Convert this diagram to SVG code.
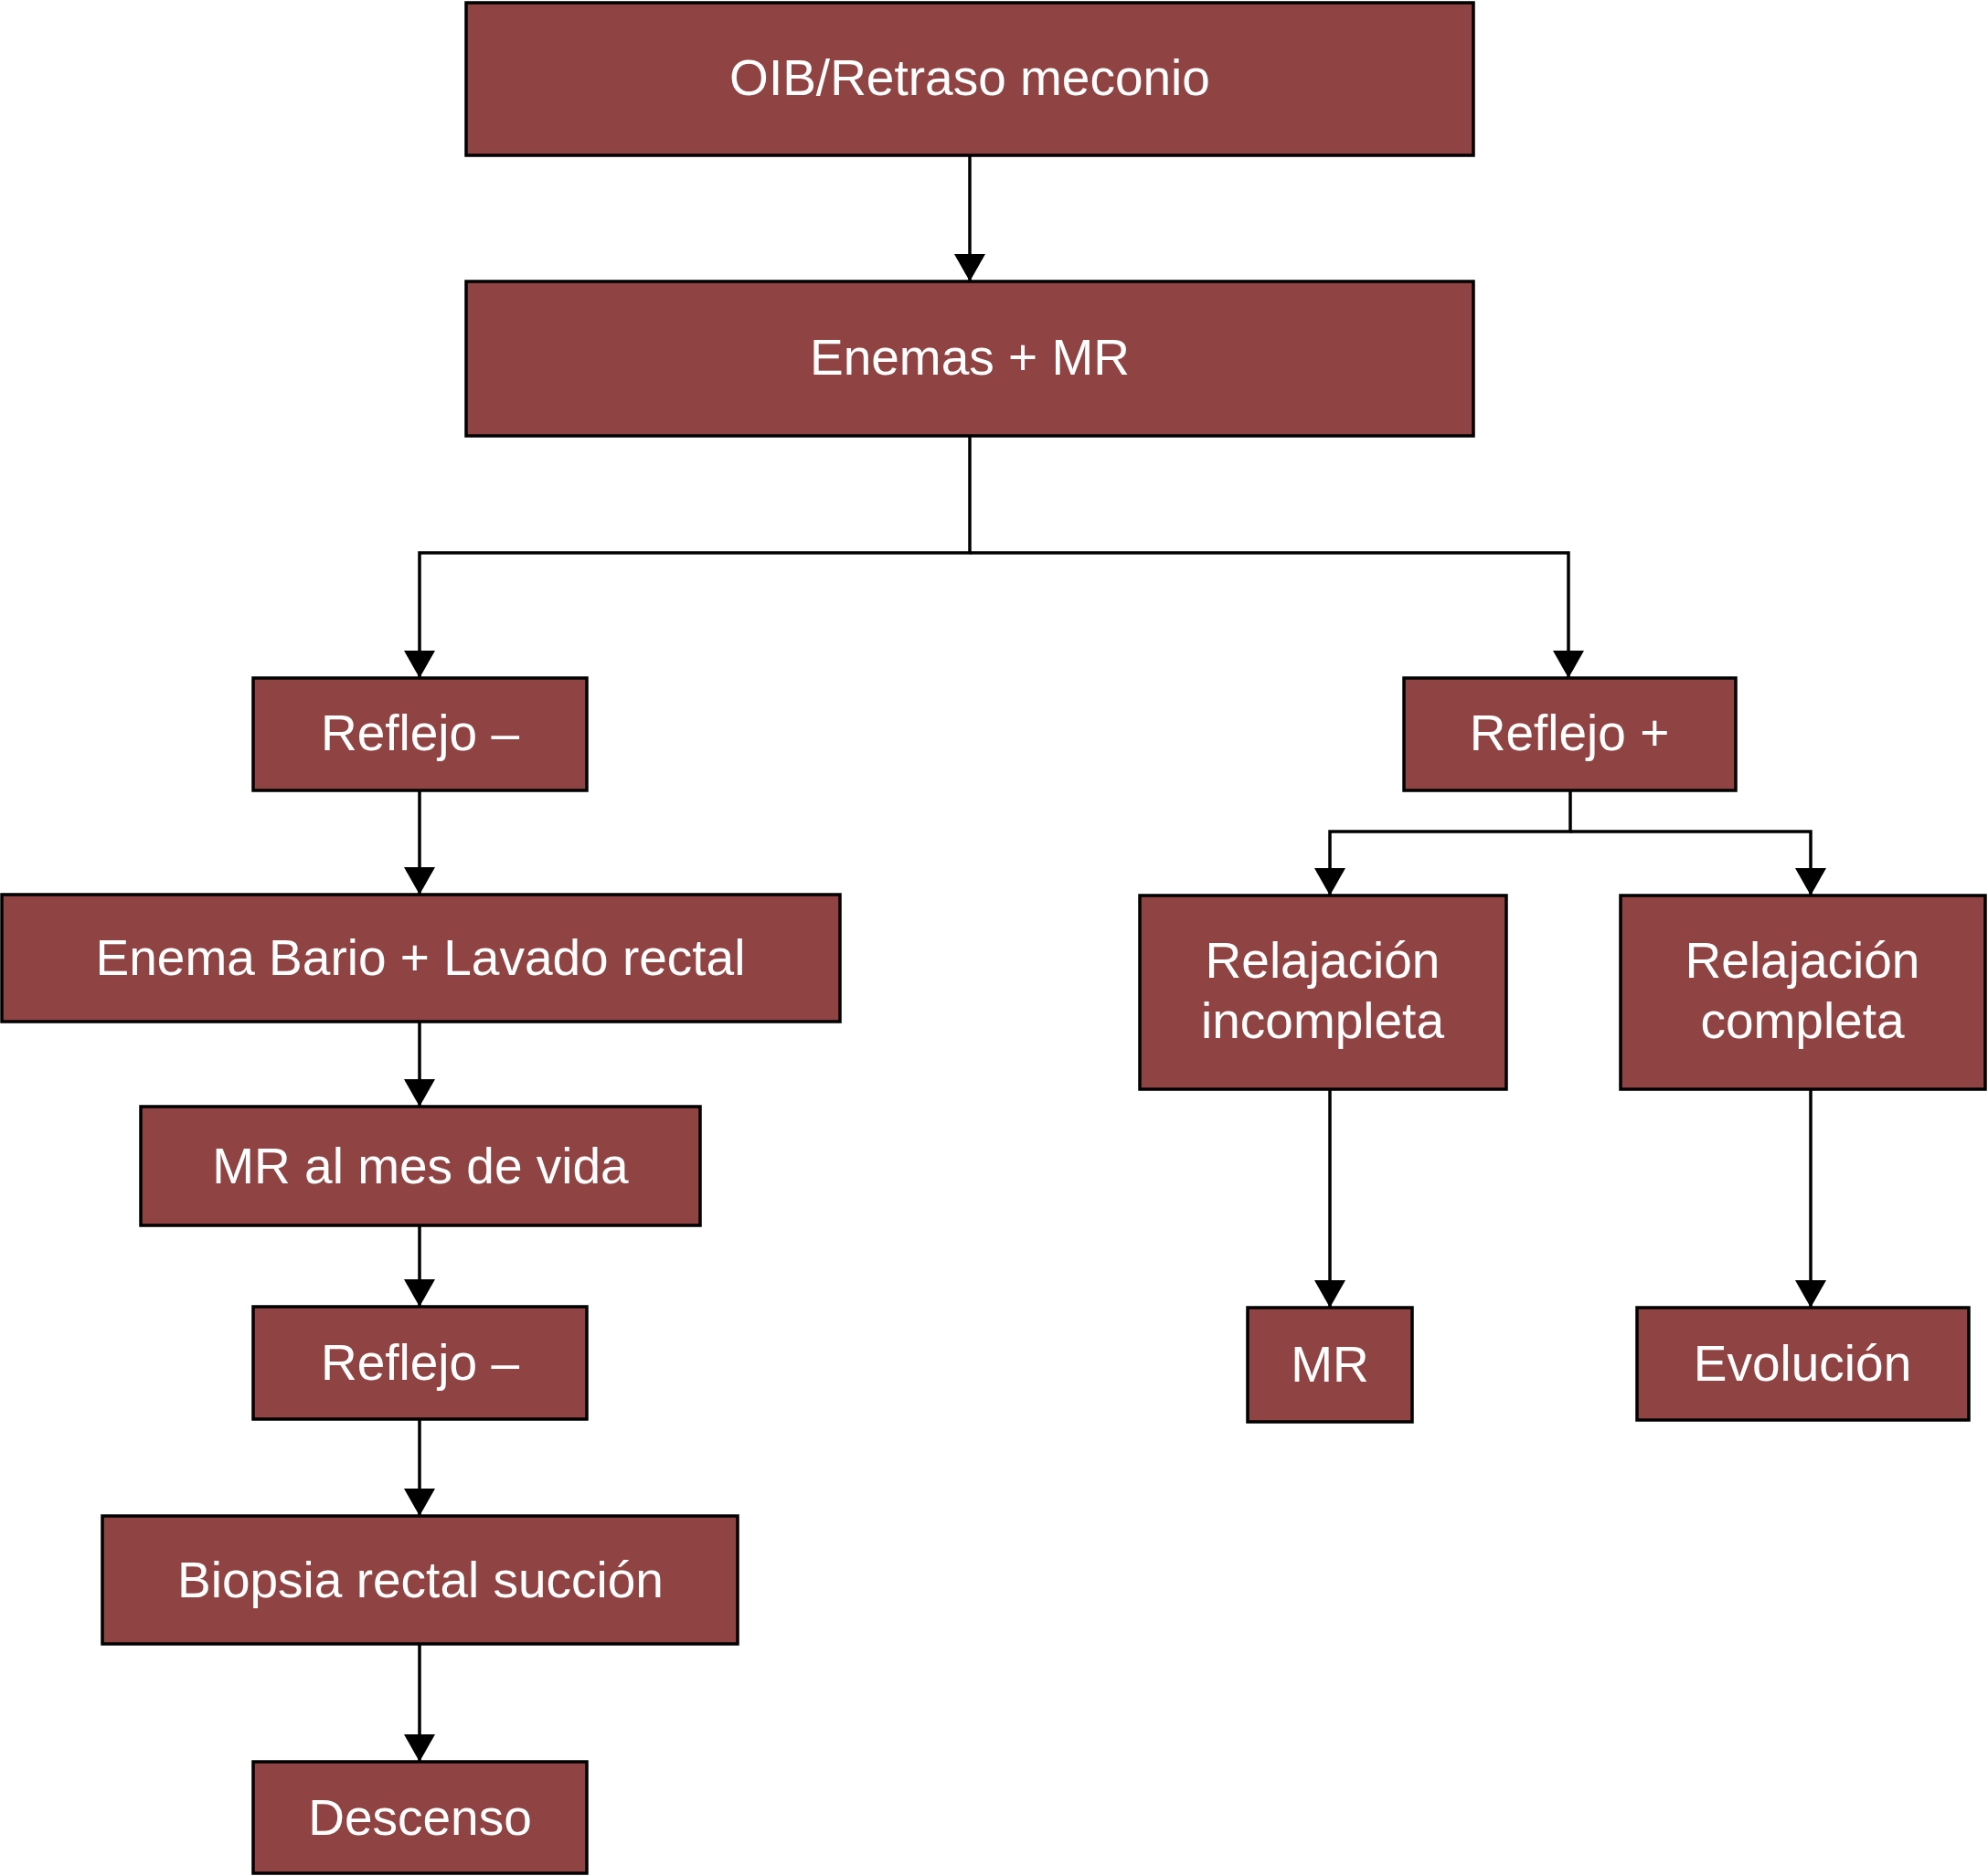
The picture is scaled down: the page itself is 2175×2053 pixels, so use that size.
<svg xmlns="http://www.w3.org/2000/svg" width="2175" height="2053" viewBox="0 0 2175 2053">
<style>
.box{fill:#8f4443;stroke:#000;stroke-width:3.5}
.t{font-family:"Liberation Sans",Arial,sans-serif;font-size:55px;fill:#fff;text-anchor:middle}
.c{fill:none;stroke:#000;stroke-width:3.5}
</style>
<defs>
<marker id="ah" markerUnits="userSpaceOnUse" markerWidth="30" markerHeight="34" refX="30" refY="17" orient="auto" viewBox="0 0 30 34">
<path d="M0,0 L30,17 L0,34 Z" fill="#000"/>
</marker>
</defs>
<rect width="2175" height="2053" fill="#fff"/>
<g id="connectors">
<path class="c" d="M1061,170 V308" marker-end="url(#ah)"/>
<path class="c" d="M1061,477 V605 H459 V742" marker-end="url(#ah)"/>
<path class="c" d="M1061,605 H1716 V742" marker-end="url(#ah)"/>
<path class="c" d="M459,865 V979" marker-end="url(#ah)"/>
<path class="c" d="M459,1118 V1211" marker-end="url(#ah)"/>
<path class="c" d="M459,1341 V1430" marker-end="url(#ah)"/>
<path class="c" d="M459,1553 V1659" marker-end="url(#ah)"/>
<path class="c" d="M459,1799 V1928" marker-end="url(#ah)"/>
<path class="c" d="M1718,865 V910 H1455 V980" marker-end="url(#ah)"/>
<path class="c" d="M1718,910 H1981 V980" marker-end="url(#ah)"/>
<path class="c" d="M1455,1192 V1431" marker-end="url(#ah)"/>
<path class="c" d="M1981,1192 V1431" marker-end="url(#ah)"/>
</g>
<g id="n1"><rect class="box" x="510" y="3" width="1102" height="167"/><text class="t" x="1061" y="104">OIB/Retraso meconio</text></g>
<g id="n2"><rect class="box" x="510" y="308" width="1102" height="169"/><text class="t" x="1061" y="410">Enemas + MR</text></g>
<g id="n3"><rect class="box" x="277" y="742" width="365" height="123"/><text class="t" x="459.5" y="821">Reflejo –</text></g>
<g id="n4"><rect class="box" x="2" y="979" width="917" height="139"/><text class="t" x="460" y="1067">Enema Bario + Lavado rectal</text></g>
<g id="n5"><rect class="box" x="154" y="1211" width="612" height="130"/><text class="t" x="460" y="1295">MR al mes de vida</text></g>
<g id="n6"><rect class="box" x="277" y="1430" width="365" height="123"/><text class="t" x="459.5" y="1510">Reflejo –</text></g>
<g id="n7"><rect class="box" x="112" y="1659" width="695" height="140"/><text class="t" x="460" y="1748">Biopsia rectal succión</text></g>
<g id="n8"><rect class="box" x="277" y="1928" width="365" height="122"/><text class="t" x="459.5" y="2008">Descenso</text></g>
<g id="n9"><rect class="box" x="1536" y="742" width="363" height="123"/><text class="t" x="1717" y="821">Reflejo +</text></g>
<g id="n10"><rect class="box" x="1247" y="980" width="401" height="212"/><text class="t" x="1447" y="1070">Relajación</text><text class="t" x="1447" y="1136">incompleta</text></g>
<g id="n11"><rect class="box" x="1773" y="980" width="399" height="212"/><text class="t" x="1972" y="1070">Relajación</text><text class="t" x="1972" y="1136">completa</text></g>
<g id="n12"><rect class="box" x="1365" y="1431" width="180" height="125"/><text class="t" x="1455" y="1512">MR</text></g>
<g id="n13"><rect class="box" x="1791" y="1431" width="363" height="123"/><text class="t" x="1972" y="1511">Evolución</text></g>
</svg>
